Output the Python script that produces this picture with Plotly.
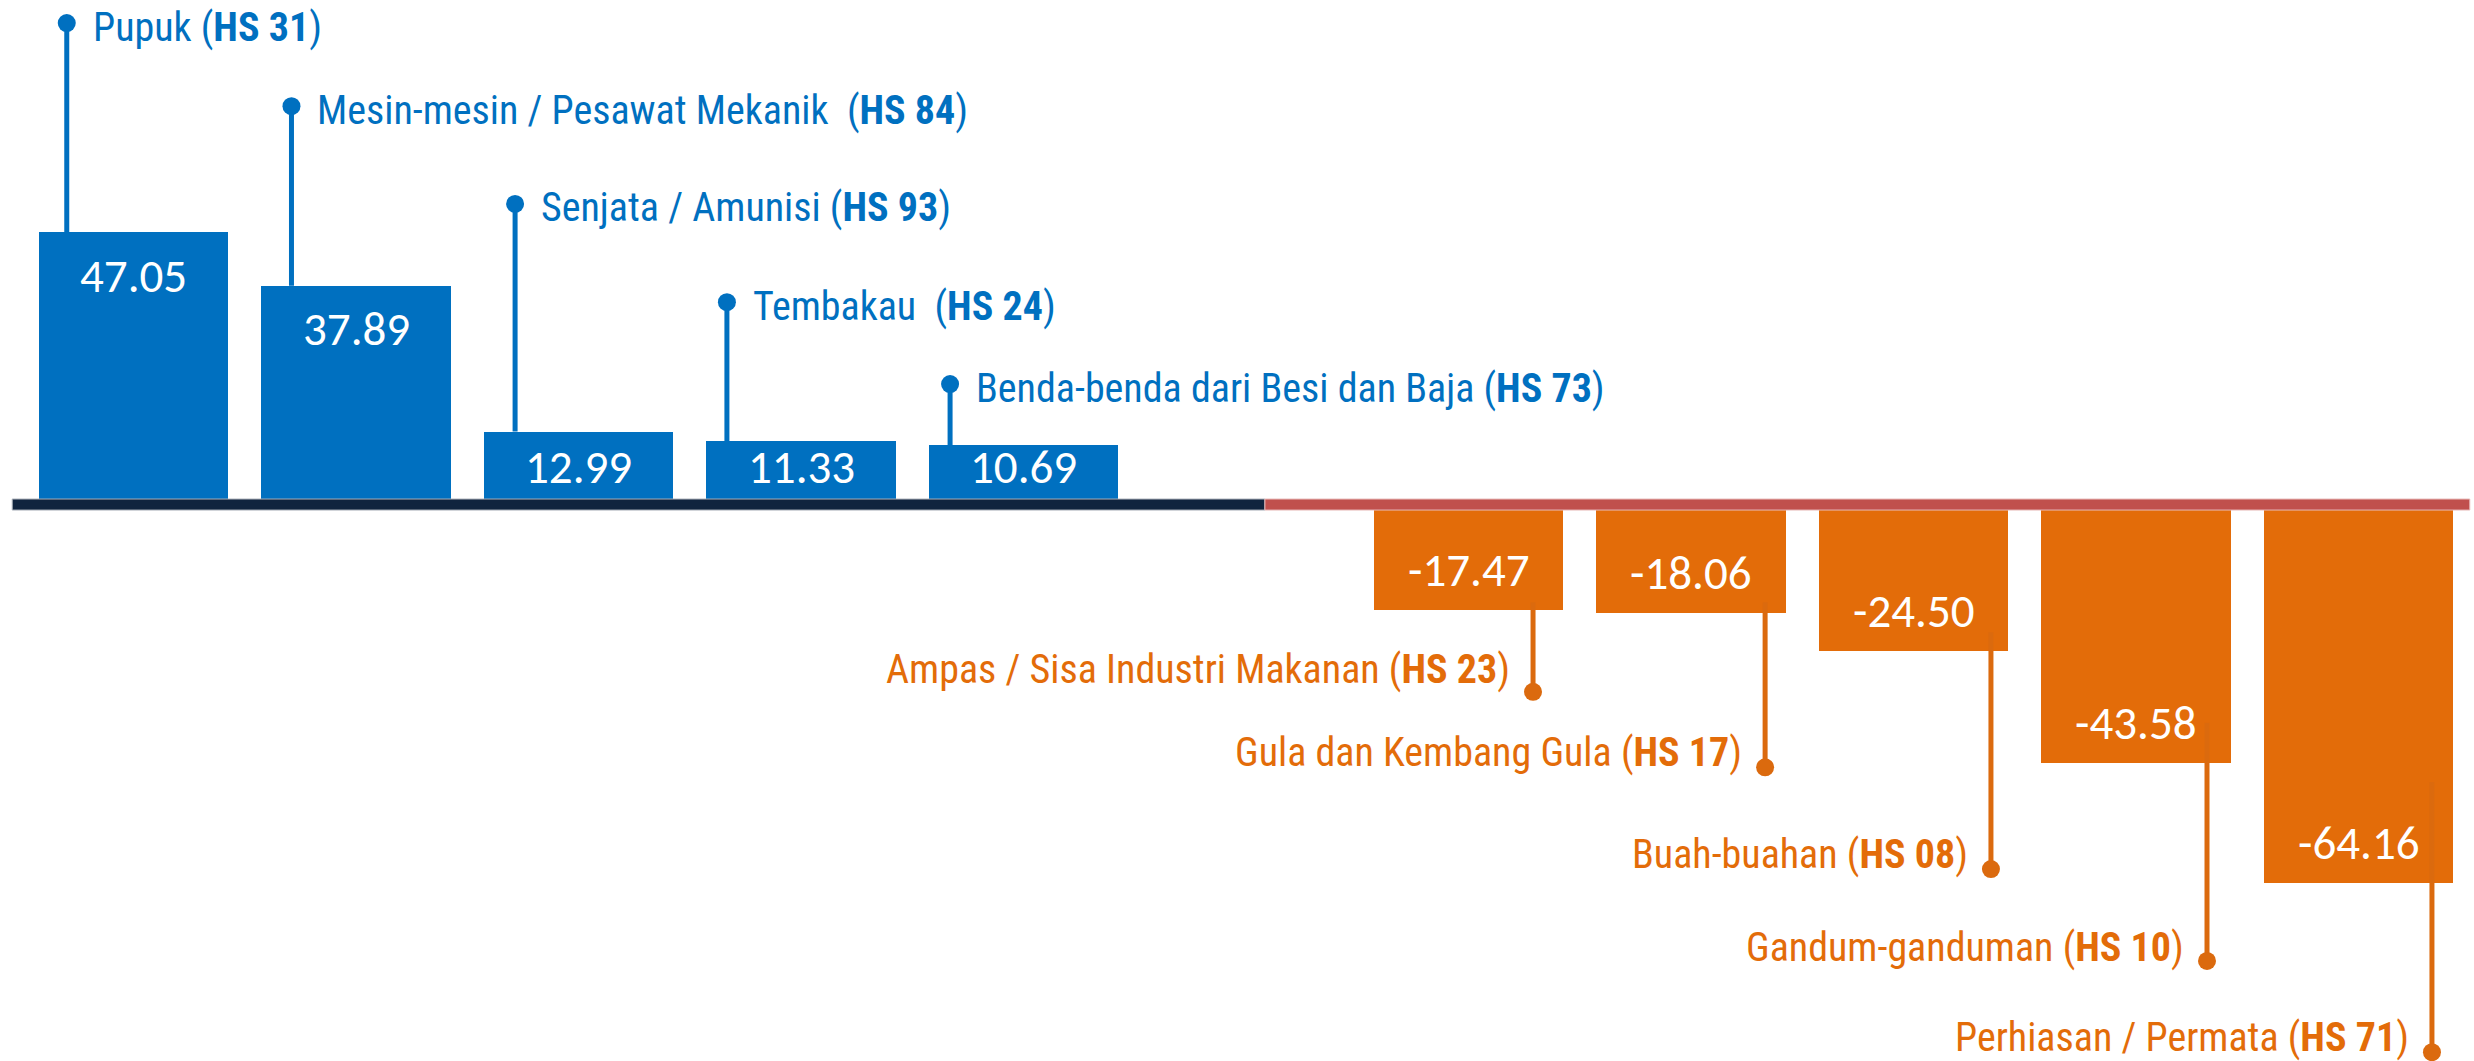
import plotly.graph_objects as go

# ---- data ----
pos_names = ["Pupuk", "Mesin-mesin / Pesawat Mekanik\u00a0", "Senjata / Amunisi", "Tembakau\u00a0", "Benda-benda dari Besi dan Baja"]
pos_codes = ["HS 31", "HS 84", "HS 93", "HS 24", "HS 73"]
pos_values = [47.05, 37.89, 12.99, 11.33, 10.69]

neg_names = ["Ampas / Sisa Industri Makanan", "Gula dan Kembang Gula", "Buah-buahan", "Gandum-ganduman", "Perhiasan / Permata"]
neg_codes = ["HS 23", "HS 17", "HS 08", "HS 10", "HS 71"]
neg_values = [-17.47, -18.06, -24.50, -43.58, -64.16]

# ---- layout helpers (callout heights in value units) ----
pos_callout_y = [82.8, 68.6, 51.9, 35.1, 21.1]
neg_callout_y = [-31.5, -44.4, -61.8, -77.5, -93.1]
neg_stem_top = [-16.2, -16.2, -21.3, -36.8, -46.9]
pos_stem_off = [-0.30, -0.29, -0.285, -0.333, -0.33]
neg_stem_off = [0.29, 0.333, 0.348, 0.319, 0.33]
neg_label_lift = [22, 15, 15, 13, 15]

BLUE = "#0070C0"
ORANGE = "#E36C09"
STEM_ORANGE = "#DB6A0E"
NAVY = "#10243E"
RED = "#C0504D"
LABEL_FONT = "Liberation Sans Narrow, Arial Narrow, Roboto Condensed, Liberation Sans, sans-serif"
VALUE_FONT = "Carlito, Calibri, Lato, sans-serif"

pos_x = list(range(len(pos_values)))
neg_x = [len(pos_values) + 1 + i for i in range(len(neg_values))]
bar_w = 0.85

fig = go.Figure()
fig.add_trace(go.Bar(x=pos_x, y=pos_values, width=bar_w, marker=dict(color=BLUE, line=dict(width=0)),
                     hoverinfo="skip", showlegend=False))
fig.add_trace(go.Bar(x=neg_x, y=neg_values, width=bar_w, marker=dict(color=ORANGE, line=dict(width=0)),
                     hoverinfo="skip", showlegend=False))


def stems(xs, starts, ends, offs):
    sx, sy = [], []
    for x, s, e, o in zip(xs, starts, ends, offs):
        sx += [x + o, x + o, None]
        sy += [s, e, None]
    return sx, sy


sx, sy = stems(pos_x, pos_values, pos_callout_y, pos_stem_off)
fig.add_trace(go.Scatter(x=sx, y=sy, mode="lines", line=dict(color=BLUE, width=5), hoverinfo="skip", showlegend=False))
fig.add_trace(go.Scatter(x=[x + o for x, o in zip(pos_x, pos_stem_off)], y=pos_callout_y, mode="markers",
                         marker=dict(color=BLUE, size=18, line=dict(width=0)), hoverinfo="skip", showlegend=False))
sx, sy = stems(neg_x, neg_stem_top, neg_callout_y, neg_stem_off)
fig.add_trace(go.Scatter(x=sx, y=sy, mode="lines", line=dict(color=STEM_ORANGE, width=5), hoverinfo="skip", showlegend=False))
fig.add_trace(go.Scatter(x=[x + o for x, o in zip(neg_x, neg_stem_off)], y=neg_callout_y, mode="markers",
                         marker=dict(color=STEM_ORANGE, size=18, line=dict(width=0)), hoverinfo="skip", showlegend=False))

annotations = []
# category labels
for x, o, n, c, y in zip(pos_x, pos_stem_off, pos_names, pos_codes, pos_callout_y):
    annotations.append(dict(x=x + o, y=y, xref="x", yref="y", text=f"{n} (<b>{c}</b>)",
                            showarrow=False, xanchor="left", yanchor="middle", xshift=24, yshift=-4,
                            font=dict(family=LABEL_FONT, size=40, color=BLUE)))
for x, o, n, c, y, lift in zip(neg_x, neg_stem_off, neg_names, neg_codes, neg_callout_y, neg_label_lift):
    annotations.append(dict(x=x + o, y=y, xref="x", yref="y", text=f"{n} (<b>{c}</b>)",
                            showarrow=False, xanchor="right", yanchor="middle", xshift=-21, yshift=lift,
                            font=dict(family=LABEL_FONT, size=40, color=ORANGE)))
# value labels
for x, v in zip(pos_x, pos_values):
    annotations.append(dict(x=x, y=max(v - 7.4, 6.9), xref="x", yref="y", text=f"{v:.2f}",
                            showarrow=False, xanchor="center", yanchor="middle",
                            font=dict(family=VALUE_FONT, size=47, color="white")))
for x, v in zip(neg_x, neg_values):
    annotations.append(dict(x=x, y=min(v + 6.8, -6.9), xref="x", yref="y", text=f"{v:.2f}",
                            showarrow=False, xanchor="center", yanchor="middle",
                            font=dict(family=VALUE_FONT, size=47, color="white")))

split = 5.085
shapes = [
    dict(type="rect", xref="x", yref="y", x0=-0.545, x1=split, ysizemode="pixel", yanchor=0, y0=-2.5, y1=8.5,
         fillcolor=NAVY, line=dict(color="#A9AFB8", width=1), layer="above"),
    dict(type="rect", xref="x", yref="y", x0=split, x1=10.50, ysizemode="pixel", yanchor=0, y0=-2.5, y1=8.5,
         fillcolor=RED, line=dict(color="#E7B9B8", width=1), layer="above"),
]

fig.update_layout(
    width=2474, height=1061,
    margin=dict(l=0, r=0, t=0, b=0, pad=0),
    paper_bgcolor="white", plot_bgcolor="white",
    xaxis=dict(range=[-0.600, 10.519], visible=False, fixedrange=True),
    yaxis=dict(range=[-94.6, 86.75], visible=False, fixedrange=True),
    annotations=annotations, shapes=shapes, bargap=0, showlegend=False,
)
fig.write_html("out.html", config={"displayModeBar": False},
               post_script="document.body.style.margin='0';document.body.style.overflow='hidden';")
